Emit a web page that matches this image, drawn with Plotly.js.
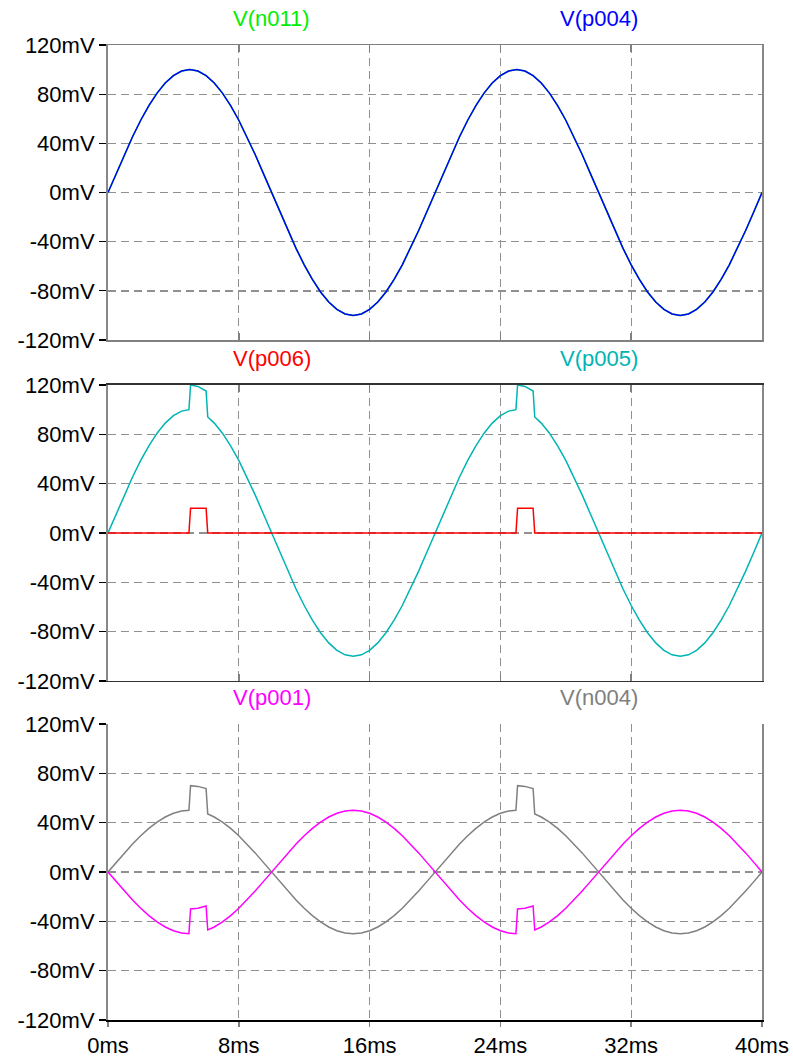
<!DOCTYPE html>
<html>
<head>
<meta charset="utf-8">
<script src="https://cdn.plot.ly/plotly-3.0.1.min.js"></script>
<style>html,body{margin:0;padding:0;background:#fff;}#chart{width:793px;height:1057px;}</style>
</head>
<body>
<div id="chart"></div>
<script>
// time axis (ms) for the top panel
var tA = [0,0.5,1,1.5,2,2.5,3,3.5,4,4.5,5,5.5,6,6.5,7,7.5,8,8.5,9,9.5,10,10.5,11,11.5,12,12.5,13,13.5,14,14.5,15,15.5,16,16.5,17,17.5,18,18.5,19,19.5,
20,20.5,21,21.5,22,22.5,23,23.5,24,24.5,25,25.5,26,26.5,27,27.5,28,28.5,29,29.5,30,30.5,31,31.5,32,32.5,33,33.5,34,34.5,35,35.5,36,36.5,37,37.5,38,38.5,39,39.5,40];
// V(n011) and V(p004), mV
var vN011 = [0,15.6,30.9,45.4,58.8,70.7,80.9,89.1,95.1,98.8,100,98.8,95.1,89.1,80.9,70.7,58.8,45.4,30.9,15.6,0,-15.6,-30.9,-45.4,-58.8,-70.7,-80.9,-89.1,-95.1,-98.8,-100,-98.8,-95.1,-89.1,-80.9,-70.7,-58.8,-45.4,-30.9,-15.6,
0,15.6,30.9,45.4,58.8,70.7,80.9,89.1,95.1,98.8,100,98.8,95.1,89.1,80.9,70.7,58.8,45.4,30.9,15.6,0,-15.6,-30.9,-45.4,-58.8,-70.7,-80.9,-89.1,-95.1,-98.8,-100,-98.8,-95.1,-89.1,-80.9,-70.7,-58.8,-45.4,-30.9,-15.6,0];
var vP004 = [0,15.6,30.9,45.4,58.8,70.7,80.9,89.1,95.1,98.8,100,98.8,95.1,89.1,80.9,70.7,58.8,45.4,30.9,15.6,0,-15.6,-30.9,-45.4,-58.8,-70.7,-80.9,-89.1,-95.1,-98.8,-100,-98.8,-95.1,-89.1,-80.9,-70.7,-58.8,-45.4,-30.9,-15.6,
0,15.6,30.9,45.4,58.8,70.7,80.9,89.1,95.1,98.8,100,98.8,95.1,89.1,80.9,70.7,58.8,45.4,30.9,15.6,0,-15.6,-30.9,-45.4,-58.8,-70.7,-80.9,-89.1,-95.1,-98.8,-100,-98.8,-95.1,-89.1,-80.9,-70.7,-58.8,-45.4,-30.9,-15.6,0];

// time axis (ms) for the middle and bottom panels (with pulse edges)
var tB = [0,0.5,1,1.5,2,2.5,3,3.5,4,4.5,4.95,5.05,5.5,6,6.1,6.5,7,7.5,8,8.5,9,9.5,10,10.5,11,11.5,12,12.5,13,13.5,14,14.5,15,15.5,16,16.5,17,17.5,18,18.5,19,19.5,
20,20.5,21,21.5,22,22.5,23,23.5,24,24.5,24.95,25.05,25.5,26,26.1,26.5,27,27.5,28,28.5,29,29.5,30,30.5,31,31.5,32,32.5,33,33.5,34,34.5,35,35.5,36,36.5,37,37.5,38,38.5,39,39.5,40];
// V(p006) red pulse, mV
var vP006 = [0,0,0,0,0,0,0,0,0,0,0,20,20,20,0,0,0,0,0,0,0,0,0,0,0,0,0,0,0,0,0,0,0,0,0,0,0,0,0,0,0,0,
0,0,0,0,0,0,0,0,0,0,0,20,20,20,0,0,0,0,0,0,0,0,0,0,0,0,0,0,0,0,0,0,0,0,0,0,0,0,0,0,0,0,0];
// V(p005) cyan, mV
var vP005 = [0,15.6,30.9,45.4,58.8,70.7,80.9,89.1,95.1,98.8,100,120,118.8,115.1,94.1,89.1,80.9,70.7,58.8,45.4,30.9,15.6,0,-15.6,-30.9,-45.4,-58.8,-70.7,-80.9,-89.1,-95.1,-98.8,-100,-98.8,-95.1,-89.1,-80.9,-70.7,-58.8,-45.4,-30.9,-15.6,
0,15.6,30.9,45.4,58.8,70.7,80.9,89.1,95.1,98.8,100,120,118.8,115.1,94.1,89.1,80.9,70.7,58.8,45.4,30.9,15.6,0,-15.6,-30.9,-45.4,-58.8,-70.7,-80.9,-89.1,-95.1,-98.8,-100,-98.8,-95.1,-89.1,-80.9,-70.7,-58.8,-45.4,-30.9,-15.6,0];
// V(n004) gray, mV
var vN004 = [0,7.8,15.5,22.7,29.4,35.4,40.5,44.6,47.6,49.4,50,70,69.4,67.6,47.0,44.6,40.5,35.4,29.4,22.7,15.5,7.8,0,-7.8,-15.5,-22.7,-29.4,-35.4,-40.5,-44.6,-47.6,-49.4,-50,-49.4,-47.6,-44.6,-40.5,-35.4,-29.4,-22.7,-15.5,-7.8,
0,7.8,15.5,22.7,29.4,35.4,40.5,44.6,47.6,49.4,50,70,69.4,67.6,47.0,44.6,40.5,35.4,29.4,22.7,15.5,7.8,0,-7.8,-15.5,-22.7,-29.4,-35.4,-40.5,-44.6,-47.6,-49.4,-50,-49.4,-47.6,-44.6,-40.5,-35.4,-29.4,-22.7,-15.5,-7.8,0];
// V(p001) magenta, mV
var vP001 = [0,-7.8,-15.5,-22.7,-29.4,-35.4,-40.5,-44.6,-47.6,-49.4,-50,-30,-29.4,-27.6,-47.0,-44.6,-40.5,-35.4,-29.4,-22.7,-15.5,-7.8,0,7.8,15.5,22.7,29.4,35.4,40.5,44.6,47.6,49.4,50,49.4,47.6,44.6,40.5,35.4,29.4,22.7,15.5,7.8,
0,-7.8,-15.5,-22.7,-29.4,-35.4,-40.5,-44.6,-47.6,-49.4,-50,-30,-29.4,-27.6,-47.0,-44.6,-40.5,-35.4,-29.4,-22.7,-15.5,-7.8,0,7.8,15.5,22.7,29.4,35.4,40.5,44.6,47.6,49.4,50,49.4,47.6,44.6,40.5,35.4,29.4,22.7,15.5,7.8,0];

var xTickVals = [0,8,16,24,32,40];
var xTickText = ['0ms','8ms','16ms','24ms','32ms','40ms'];
var yTickVals = [-120,-80,-40,0,40,80,120];
var yTickText = ['-120mV','-80mV','-40mV','0mV','40mV','80mV','120mV'];
var traceNames = ['V(n011)','V(p004)','V(p006)','V(p005)','V(p001)','V(n004)'];

var FONT = 'Liberation Sans, Arial, Helvetica, sans-serif';
var C = {green:'#00ee00', blue:'#0000ff', red:'#ff0000', cyan:'#00b4b4', magenta:'#ff00ff', gray:'#808080'};

function tr(x, y, color, xa, ya, name){
  return {x:x, y:y, type:'scatter', mode:'lines', name:name, xaxis:xa, yaxis:ya,
          line:{color:color, width:1.5}, hoverinfo:'skip'};
}
var data = [
  tr(tA, vN011, C.green, 'x', 'y', traceNames[0]),
  tr(tA, vP004, C.blue, 'x', 'y', traceNames[1]),
  tr(tB, vP005, C.cyan, 'x2', 'y2', traceNames[3]),
  tr(tB, vP006, C.red, 'x2', 'y2', traceNames[2]),
  tr(tB, vN004, C.gray, 'x3', 'y3', traceNames[5]),
  tr(tB, vP001, C.magenta, 'x3', 'y3', traceNames[4])
];

var dom1 = [0.6974, 1], dom2 = [0.3477, 0.6513], dom3 = [0, 0.3036];

function xax(anchor, showLabels, ticks, ticklen, mirror, lineColor){
  return {anchor:anchor, domain:[0,1], range:[0,40], tickmode:'array', tickvals:xTickVals, ticktext:xTickText,
    showticklabels:showLabels, ticks:ticks, ticklen:ticklen, tickcolor:'#808080', tickwidth:1.5,
    showgrid:true, gridcolor:'#909090', gridwidth:1.3, griddash:'8px,5px', zeroline:false,
    showline:true, linecolor:lineColor, linewidth:1.5, mirror:mirror,
    tickfont:{family:FONT, size:22, color:'#000'}, fixedrange:true};
}
function yax(anchor, domain){
  return {anchor:anchor, domain:domain, range:[-120,120], tickmode:'array', tickvals:yTickVals, ticktext:yTickText,
    ticks:'outside', ticklen:7, tickcolor:'#000', tickwidth:1.2,
    showgrid:true, gridcolor:'#909090', gridwidth:1.3, griddash:'8px,5px', zeroline:false,
    showline:true, linecolor:'#888888', linewidth:2, mirror:true,
    tickfont:{family:FONT, size:22, color:'#000'}, fixedrange:true};
}

var x4 = {overlaying:'x3', anchor:'y3', side:'top', range:[0,40], tickmode:'array', tickvals:xTickVals,
  showticklabels:false, ticks:'inside', ticklen:7, tickcolor:'#808080', tickwidth:1.5,
  showgrid:false, zeroline:false, showline:true, linecolor:'#808080', linewidth:1.5, fixedrange:true};

function ann(text, x, ytop, color){
  return {text:text, xref:'paper', yref:'paper', x:x, y:ytop, xanchor:'center', yanchor:'bottom',
    yshift:12, showarrow:false, font:{family:FONT, size:22, color:color}};
}

var layout = {
  width:793, height:1057,
  margin:{l:108, r:31, t:45, b:37},
  paper_bgcolor:'#ffffff', plot_bgcolor:'#ffffff',
  showlegend:false,
  font:{family:FONT, size:22, color:'#000'},
  xaxis: xax('y', false, 'inside', 7, 'allticks', '#808080'),
  xaxis2: xax('y2', false, 'inside', 7, 'allticks', '#333333'),
  xaxis3: xax('y3', true, 'outside', 5, false, '#000000'),
  xaxis4: x4,
  yaxis: yax('x', dom1),
  yaxis2: yax('x2', dom2),
  yaxis3: yax('x3', dom3),
  annotations:[
    ann(traceNames[0], 0.25, dom1[1], C.green),
    ann(traceNames[1], 0.75, dom1[1], C.blue),
    ann(traceNames[2], 0.25, dom2[1], C.red),
    ann(traceNames[3], 0.75, dom2[1], C.cyan),
    ann(traceNames[4], 0.25, dom3[1], C.magenta),
    ann(traceNames[5], 0.75, dom3[1], C.gray)
  ]
};

Plotly.newPlot('chart', data, layout, {staticPlot:true, displayModeBar:false});
</script>
</body>
</html>
